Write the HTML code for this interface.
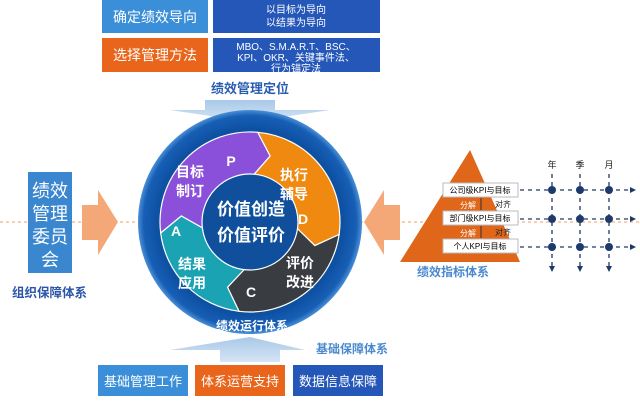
<!DOCTYPE html>
<html><head><meta charset="utf-8"><style>
html,body{margin:0;padding:0;background:#fff;}
svg{display:block;font-family:"Liberation Sans","Noto Sans CJK SC",sans-serif;}
</style></head><body>
<svg width="640" height="406" viewBox="0 0 640 406" xmlns="http://www.w3.org/2000/svg">
<defs>
<radialGradient id="cg" cx="50%" cy="50%" r="50%">
<stop offset="0.8" stop-color="#0b4d9f"/><stop offset="0.95" stop-color="#175fb5"/><stop offset="1" stop-color="#4a8fd6"/>
</radialGradient>
<linearGradient id="ag" x1="0" y1="0" x2="0" y2="1"><stop offset="0" stop-color="#a9c8e8"/><stop offset="1" stop-color="#d5e5f5"/></linearGradient>
</defs>
<!-- top boxes -->
<rect x="102" y="0" width="106" height="33" fill="#3b8fd8"/>
<text x="155" y="22" fill="#fff" font-size="14" text-anchor="middle">确定绩效导向</text>
<rect x="213" y="0" width="167" height="33" fill="#2557b9"/>
<text x="296" y="13" fill="#fff" font-size="10" text-anchor="middle">以目标为导向</text>
<text x="296" y="26" fill="#fff" font-size="10" text-anchor="middle">以结果为导向</text>
<rect x="102" y="38" width="106" height="34" fill="#e9651b"/>
<text x="155" y="60" fill="#fff" font-size="14" text-anchor="middle">选择管理方法</text>
<rect x="213" y="38" width="167" height="34" fill="#2557b9"/>
<text x="296" y="50" fill="#fff" font-size="10" text-anchor="middle">MBO、S.M.A.R.T、BSC、</text>
<text x="296" y="61" fill="#fff" font-size="10" text-anchor="middle">KPI、OKR、关键事件法、</text>
<text x="296" y="72" fill="#fff" font-size="10" text-anchor="middle">行为锚定法</text>
<text x="250" y="93" fill="#2a5db0" font-size="13" font-weight="bold" text-anchor="middle">绩效管理定位</text>
<!-- down arrow -->
<path d="M205 100 H275 V110 H330 L250 122 L170 110 H205 Z" fill="url(#ag)"/>
<!-- dashed line -->
<line x1="0" y1="222" x2="640" y2="222" stroke="#f0a060" stroke-width="1" stroke-dasharray="3,3"/>
<!-- left -->
<rect x="28" y="172" width="44" height="101" fill="#3a87d0"/>
<text fill="#fff" font-size="18" text-anchor="middle"><tspan x="50" y="197">绩效</tspan><tspan x="50" y="220">管理</tspan><tspan x="50" y="243">委员</tspan><tspan x="50" y="266">会</tspan></text>
<path d="M82 205 H98 V190 L118 222 L98 255 V240 H82 Z" fill="#f4a878"/>
<text x="12" y="297" fill="#2a55a8" font-size="12.5" font-weight="bold">组织保障体系</text>
<!-- right arrow -->
<path d="M400 205 H384 V190 L364 222 L384 255 V240 H400 Z" fill="#f4a878"/>
<!-- circle -->
<circle cx="250" cy="222" r="112" fill="url(#cg)"/>
<circle cx="250" cy="222" r="93" fill="#0e519f"/>
<path d="M160.7 233 A90 90 0 0 1 257.8 132.3 L270.2 156 L254.2 174.2 A48 48 0 0 0 202.4 227.9 L181.3 216 Z" fill="#8b50d9" stroke="#fff" stroke-width="1.2"/>
<path d="M257.8 132.3 A90 90 0 0 1 339.1 234.5 L314.8 245.6 L297.5 228.7 A48 48 0 0 0 254.2 174.2 L270.2 156 Z" fill="#f0890f" stroke="#fff" stroke-width="1.2"/>
<path d="M339.1 234.5 A90 90 0 0 1 239 311.3 L227.5 287.2 L244.1 269.6 A48 48 0 0 0 297.5 228.7 L314.8 245.6 Z" fill="#393c41" stroke="#fff" stroke-width="1.2"/>
<path d="M239 311.3 A90 90 0 0 1 160.7 233 L181.3 216 L202.4 227.9 A48 48 0 0 0 244.1 269.6 L227.5 287.2 Z" fill="#1aa3b2" stroke="#fff" stroke-width="1.2"/>
<circle cx="250" cy="222" r="46" fill="#0f4f9c"/>
<text fill="#fff" font-size="17" font-weight="bold" text-anchor="middle"><tspan x="251" y="215">价值创造</tspan><tspan x="251" y="241">价值评价</tspan></text>
<g fill="#fff" font-size="14" font-weight="bold" text-anchor="middle">
<text x="190" y="177">目标</text><text x="190" y="196">制订</text>
<text x="294" y="180">执行</text><text x="294" y="199">辅导</text>
<text x="300" y="268">评价</text><text x="300" y="287">改进</text>
<text x="192" y="269">结果</text><text x="192" y="288">应用</text>
<text x="231" y="166">P</text><text x="303" y="224">D</text>
<text x="251" y="297">C</text><text x="176" y="236">A</text>
</g>
<text x="252" y="330" fill="#fff" font-size="12" font-weight="bold" text-anchor="middle">绩效运行体系</text>
<!-- bottom -->
<path d="M220 362 V350 H170 L250 337 L305 350 H280 V362 Z" fill="url(#ag)"/>
<text x="316" y="353" fill="#4a88cf" font-size="12" font-weight="bold">基础保障体系</text>
<rect x="98" y="365" width="90" height="31" fill="#3b8fd8"/>
<text x="143" y="386" fill="#fff" font-size="13" text-anchor="middle">基础管理工作</text>
<rect x="195" y="365" width="90" height="31" fill="#e9651b"/>
<text x="240" y="386" fill="#fff" font-size="13" text-anchor="middle">体系运营支持</text>
<rect x="293" y="365" width="90" height="31" fill="#2557b9"/>
<text x="338" y="386" fill="#fff" font-size="13" text-anchor="middle">数据信息保障</text>
<!-- pyramid -->
<path d="M470 150 L520 262 L400 262 Z" fill="#e0661a"/>
<g font-size="8" text-anchor="middle">
<rect x="443" y="183" width="75" height="14" fill="#fff" stroke="#bbb"/><text x="480" y="193">公司级KPI与目标</text>
<rect x="443" y="211" width="75" height="14" fill="#fff" stroke="#bbb"/><text x="480" y="221">部门级KPI与目标</text>
<rect x="443" y="239" width="75" height="14" fill="#fff" stroke="#bbb"/><text x="480" y="249">个人KPI与目标</text>
<text x="468" y="208" fill="#fff">分解</text><text x="503" y="207" fill="#222">对齐</text>
<text x="468" y="236" fill="#fff">分解</text><text x="503" y="235" fill="#222">对齐</text>
</g>
<g stroke="#333" stroke-width="1"><line x1="481" y1="198" x2="481" y2="210"/><line x1="481" y1="226" x2="481" y2="238"/></g>
<text x="417" y="276" fill="#4a88cf" font-size="12" font-weight="bold">绩效指标体系</text>
<!-- grid -->
<g font-size="9" text-anchor="middle" fill="#222"><text x="552" y="168">年</text><text x="580" y="168">季</text><text x="609" y="168">月</text></g>
<g stroke="#1d3a6a" stroke-width="1.3" stroke-dasharray="4,4" fill="none">
<line x1="520" y1="190" x2="630" y2="190"/><line x1="520" y1="219" x2="630" y2="219"/><line x1="520" y1="247" x2="630" y2="247"/>
<line x1="552" y1="174" x2="552" y2="266"/><line x1="580" y1="174" x2="580" y2="266"/><line x1="609" y1="174" x2="609" y2="266"/>
</g>
<g fill="#1d3a6a">
<path d="M630 187 L636 190 L630 193Z"/><path d="M630 216 L636 219 L630 222Z"/><path d="M630 244 L636 247 L630 250Z"/>
<path d="M549 266 L552 272 L555 266Z"/><path d="M577 266 L580 272 L583 266Z"/><path d="M606 266 L609 272 L612 266Z"/>
<circle cx="552" cy="190" r="4"/><circle cx="580" cy="190" r="4"/><circle cx="609" cy="190" r="4"/>
<circle cx="552" cy="219" r="4"/><circle cx="580" cy="219" r="4"/><circle cx="609" cy="219" r="4"/>
<circle cx="552" cy="247" r="4"/><circle cx="580" cy="247" r="4"/><circle cx="609" cy="247" r="4"/>
</g>
</svg>
</body></html>
